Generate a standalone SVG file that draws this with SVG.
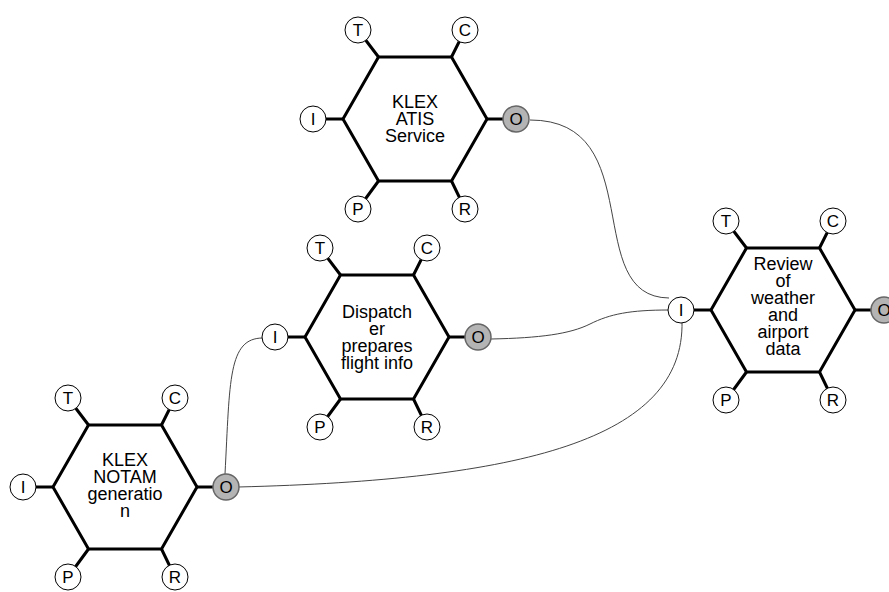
<svg xmlns="http://www.w3.org/2000/svg" xmlns:xlink="http://www.w3.org/1999/xlink" width="889" height="592" viewBox="0 0 889 592">
<style>
.hex{fill:#fff;stroke:#000;stroke-width:3;stroke-linejoin:miter}
.stub{stroke:#000;stroke-width:3;fill:none}
.port{fill:#fff;stroke:#000;stroke-width:1}
.out{fill:#b4b4b4;stroke:#666;stroke-width:1.5}
.pl{font-family:"Liberation Sans",Arial,sans-serif;font-size:17px;fill:#000;text-anchor:middle}
.lbl{font-family:"Liberation Sans",Arial,sans-serif;font-size:18px;fill:#000;text-anchor:middle}
.conn{fill:none;stroke:#444;stroke-width:1}
</style>
<defs>
<g id="hexnode">
<path class="stub" d="M-36.5,-62L-57,-89M36.5,-62L50,-89M-72,0L-102,0M72,0L101,0M-36.5,62L-57,90M36.5,62L50,90"/>
<polygon class="hex" points="-36.5,-62 36.5,-62 72,0 36.5,62 -36.5,62 -72,0"/>
<circle class="port" cx="-57" cy="-89" r="13"/>
<circle class="port" cx="50" cy="-89" r="13"/>
<circle class="port" cx="-102" cy="0" r="13"/>
<circle class="out" cx="101" cy="0" r="13"/>
<circle class="port" cx="-57" cy="90" r="13"/>
<circle class="port" cx="50" cy="90" r="13"/>
<text class="pl" x="-57" y="-83">T</text>
<text class="pl" x="50" y="-83">C</text>
<text class="pl" x="-102" y="6">I</text>
<text class="pl" x="101" y="6">O</text>
<text class="pl" x="-57" y="96">P</text>
<text class="pl" x="50" y="96">R</text>
</g>
</defs>
<rect width="889" height="592" fill="#fff"/>
<g id="connectors">
<path class="conn" d="M530,120 C650,120 580,297 669,298"/>
<path class="conn" d="M491,339 C540,338 570,334 590,324 S630,310 669,310"/>
<path class="conn" d="M238,487 C520,480 685,440 682,321"/>
<path class="conn" d="M225,474 C230,380 228,338 263,338"/>
</g>
<g id="node-atis">
<use xlink:href="#hexnode" href="#hexnode" transform="translate(415,119)"/>
<text class="lbl" x="415" y="107.5">KLEX</text>
<text class="lbl" x="415" y="124.5">ATIS</text>
<text class="lbl" x="415" y="141.5">Service</text>
</g>
<g id="node-dispatcher">
<use xlink:href="#hexnode" href="#hexnode" transform="translate(377,337)"/>
<text class="lbl" x="377" y="318">Dispatch</text>
<text class="lbl" x="377" y="335">er</text>
<text class="lbl" x="377" y="352">prepares</text>
<text class="lbl" x="377" y="369">flight info</text>
</g>
<g id="node-notam">
<use xlink:href="#hexnode" href="#hexnode" transform="translate(125,487)"/>
<text class="lbl" x="125" y="466">KLEX</text>
<text class="lbl" x="125" y="483">NOTAM</text>
<text class="lbl" x="125" y="500">generatio</text>
<text class="lbl" x="125" y="517">n</text>
</g>
<g id="node-review">
<use xlink:href="#hexnode" href="#hexnode" transform="translate(783,310)"/>
<text class="lbl" x="783" y="270">Review</text>
<text class="lbl" x="783" y="287">of</text>
<text class="lbl" x="783" y="304">weather</text>
<text class="lbl" x="783" y="321">and</text>
<text class="lbl" x="783" y="338">airport</text>
<text class="lbl" x="783" y="355">data</text>
</g>
</svg>
